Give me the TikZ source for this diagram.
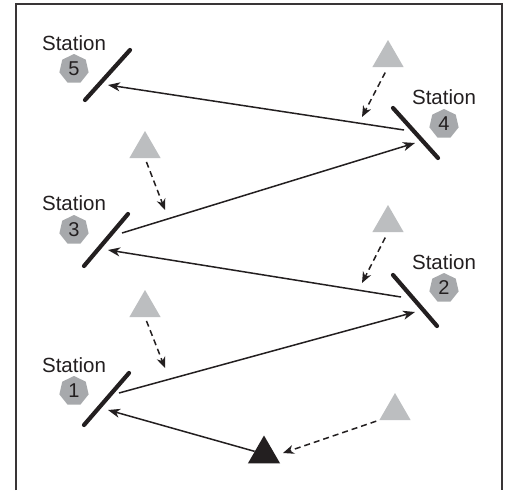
\documentclass[tikz,border=0pt]{standalone}
\usepackage{fontspec}
\setmainfont{Liberation Sans}
\usetikzlibrary{shapes.geometric,arrows.meta}
\definecolor{ink}{HTML}{231F20}
\definecolor{badge}{HTML}{A7A9AC}
\definecolor{source}{HTML}{BCBEC0}
\begin{document}
\begin{tikzpicture}[x=1pt,y=-1pt,
  frame/.style={draw=ink!90,line width=1.6pt},
  mirror/.style={draw=ink,line width=4.2pt,line cap=round},
  beam/.style={draw=ink,line width=1.5pt,-{Stealth[length=12pt,width=9pt,inset=3.5pt]}},
  feed/.style={draw=ink,line width=1.5pt,dash pattern=on 6pt off 4pt,-{Stealth[length=11pt,width=9pt,inset=3.5pt]}},
  caption/.style={text=ink,font=\fontsize{20.5}{22}\selectfont,inner sep=0pt},
  badgebox/.style={regular polygon,regular polygon sides=7,minimum size=30pt,inner sep=0pt,
    fill=badge,text=ink,font=\fontsize{20}{22}\selectfont},
  emitter/.style={regular polygon,regular polygon sides=3,minimum size=36pt,inner sep=0pt,fill=source},
  base/.style={regular polygon,regular polygon sides=3,minimum size=37pt,inner sep=0pt,fill=ink}]
\useasboundingbox (0,0) rectangle (508,490);
\fill[white] (0,0) rectangle (508,490);
% open-bottomed frame
\draw[frame] (16,490) -- (16,4) -- (502,4) -- (502,490);

% mirrors
\coordinate (m1a) at (129,373); \coordinate (m1b) at (84,425);
\coordinate (m2a) at (393,275); \coordinate (m2b) at (437,326);
\coordinate (m3a) at (128,214); \coordinate (m3b) at (84,266);
\coordinate (m4a) at (393,108); \coordinate (m4b) at (438,158);
\coordinate (m5a) at (130,50);  \coordinate (m5b) at (85,100);
\foreach \i in {1,...,5} \draw[mirror] (m\i a) -- (m\i b);

% station labels and numbers
\node[caption] (s1) at (74,365) {Station};
\node[caption] (s2) at (444,262) {Station};
\node[caption] (s3) at (74,203) {Station};
\node[caption] (s4) at (444,97) {Station};
\node[caption] (s5) at (74,43) {Station};
\node[badgebox] (n1) at (74,391) {1};
\node[badgebox] (n2) at (444,288) {2};
\node[badgebox] (n3) at (74,230) {3};
\node[badgebox] (n4) at (444,124) {4};
\node[badgebox] (n5) at (74,69) {5};

% points where the beam meets each mirror
\coordinate (h1in)  at (108,410); \coordinate (h1out) at (119,393);
\coordinate (h2in)  at (415,312); \coordinate (h2out) at (401,297);
\coordinate (h3in)  at (108,250); \coordinate (h3out) at (122,233);
\coordinate (h4in)  at (415,143); \coordinate (h4out) at (404,130);
\coordinate (h5in)  at (108,85);

% transmitter and helpers
\node[base] (tx) at (264,454) {};
\node[emitter] (e0) at (395,411) {};
\node[emitter] (e1) at (145,308) {};
\node[emitter] (e2) at (388,223) {};
\node[emitter] (e3) at (145,149) {};
\node[emitter] (e4) at (388,58) {};

% beam path
\draw[beam] (tx) -- (h1in);
\draw[beam] (h1out) -- (h2in);
\draw[beam] (h2out) -- (h3in);
\draw[beam] (h3out) -- (h4in);
\draw[beam] (h4out) -- (h5in);

% feeds
\coordinate (f0) at (283,453);
\coordinate (f1) at (165,368);
\coordinate (f2) at (362,283);
\coordinate (f3) at (165,210);
\coordinate (f4) at (362,117);
\draw[feed,shorten <=3pt] (e0.corner 2) -- (f0);
\draw[feed,shorten <=4pt] (e1.south) -- (f1);
\draw[feed,shorten <=6pt] (e2.south) -- (f2);
\draw[feed,shorten <=4pt] (e3.south) -- (f3);
\draw[feed,shorten <=6pt] (e4.south) -- (f4);
\end{tikzpicture}
\end{document}
